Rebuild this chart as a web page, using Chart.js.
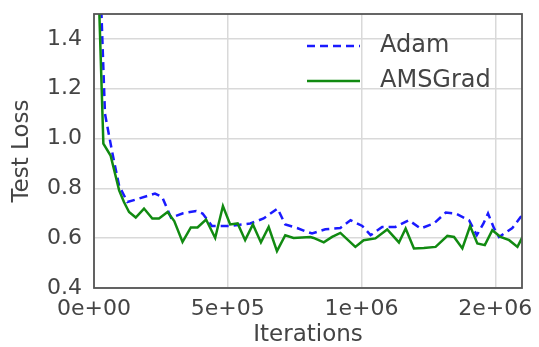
<!DOCTYPE html>
<html>
<head>
<meta charset="utf-8">
<script src="https://cdn.jsdelivr.net/npm/chart.js@4/dist/chart.umd.min.js"></script>
<style>
  html, body { margin: 0; padding: 0; background: #fff; }
  #wrap { width: 539px; height: 347px; position: relative; }
</style>
</head>
<body>
<div id="wrap"><canvas id="lossChart"></canvas></div>
<script>
// values
const seriesNames = ["Adam", "AMSGrad"];

const adamIters = [0, 41000, 54000, 70000, 94000, 125000, 228000, 255000, 288000, 333000,
  382000, 406000, 441000, 509000, 584000, 634000, 686000, 715000, 759000, 797000,
  815000, 865000, 921000, 959000, 1003000, 1034000, 1077000, 1127000, 1177000, 1221000,
  1271000, 1315000, 1352000, 1402000, 1431000, 1456000, 1473000, 1495000, 1514000, 1564000,
  1595000, 1620000];
const adamLoss = [2.35, 1.10, 1.025, 0.935, 0.81, 0.745, 0.779, 0.765, 0.682, 0.700,
  0.709, 0.699, 0.649, 0.649, 0.659, 0.679, 0.719, 0.655, 0.641, 0.625,
  0.619, 0.636, 0.641, 0.672, 0.649, 0.612, 0.645, 0.645, 0.672, 0.639,
  0.659, 0.703, 0.699, 0.672, 0.612, 0.659, 0.699, 0.641, 0.605, 0.641,
  0.685, 0.70];

const amsIters = [0, 35000, 62000, 94000, 112000, 131000, 156000, 187000, 218000, 243000,
  275000, 300000, 331000, 362000, 387000, 419000, 453000, 482000, 509000, 537000,
  565000, 594000, 624000, 653000, 684000, 715000, 746000, 809000, 821000, 859000,
  890000, 921000, 977000, 1008000, 1052000, 1096000, 1140000, 1165000, 1196000, 1233000,
  1277000, 1321000, 1346000, 1377000, 1406000, 1433000, 1461000, 1489000, 1520000, 1552000,
  1583000, 1602000];
const amsLoss = [2.2, 0.98, 0.932, 0.792, 0.745, 0.705, 0.683, 0.719, 0.679, 0.679,
  0.705, 0.669, 0.585, 0.643, 0.643, 0.675, 0.601, 0.729, 0.655, 0.659,
  0.592, 0.655, 0.583, 0.645, 0.548, 0.612, 0.601, 0.605, 0.601, 0.583,
  0.605, 0.621, 0.565, 0.592, 0.599, 0.635, 0.583, 0.639, 0.559, 0.561,
  0.565, 0.609, 0.605, 0.559, 0.649, 0.579, 0.572, 0.632, 0.605, 0.592,
  0.565, 0.605];

const xTickValues = [0, 500000, 1000000, 1500000];
const yTickValues = [0.4, 0.6, 0.8, 1.0, 1.2, 1.4];

const FONT = "'DejaVu Sans', sans-serif";
const TEXT = "#444";

function sciLabel(v) {
  const parts = Number(v).toExponential(0).split("e");
  const ex = parseInt(parts[1], 10);
  return parts[0] + "e" + (ex < 0 ? "-" : "+") + String(Math.abs(ex)).padStart(2, "0");
}

function toPoints(xs, ys) {
  return xs.map((x, i) => ({ x: x, y: ys[i] }));
}

// dark frame round the plot area
const plotFrame = {
  id: "plotFrame",
  afterDatasetsDraw(chart) {
    const a = chart.chartArea;
    const ctx = chart.ctx;
    ctx.save();
    ctx.strokeStyle = "#555";
    ctx.lineWidth = 1.8;
    ctx.strokeRect(a.left, a.top, a.right - a.left, a.bottom - a.top);
    ctx.restore();
  }
};

// legend sits inside the plot, upper right
const insideLegend = {
  id: "insideLegend",
  afterDraw(chart) {
    const a = chart.chartArea;
    const ctx = chart.ctx;
    const sets = chart.data.datasets;
    ctx.save();
    sets.forEach((ds, i) => {
      const y = a.top + 32 + i * 35;
      ctx.beginPath();
      ctx.setLineDash(ds.borderDash || []);
      ctx.strokeStyle = ds.borderColor;
      ctx.lineWidth = ds.borderWidth;
      ctx.moveTo(a.right - 215, y);
      ctx.lineTo(a.right - 162, y);
      ctx.stroke();
      ctx.setLineDash([]);
      ctx.fillStyle = TEXT;
      ctx.font = "24px " + FONT;
      ctx.textBaseline = "middle";
      ctx.fillText(ds.label, a.right - 142, y);
    });
    ctx.restore();
  }
};

// fixed plot box: 94..522 across, 14..288 down
function fixX(s) {
  s.height = 59;
  s.paddingLeft = 0;
  s.paddingRight = 0;
}
function fixY(s) {
  s.width = 94;
  s.paddingTop = 0;
  s.paddingBottom = 0;
}

new Chart("lossChart", {
  type: "line",
  data: {
    datasets: [
      {
        label: seriesNames[0],
        data: toPoints(adamIters, adamLoss),
        borderColor: "#1a1aff",
        borderWidth: 2.5,
        borderDash: [8, 5],
        pointRadius: 0,
        tension: 0,
        order: 1
      },
      {
        label: seriesNames[1],
        data: toPoints(amsIters, amsLoss),
        borderColor: "#118a11",
        borderWidth: 2.5,
        pointRadius: 0,
        tension: 0,
        order: 0
      }
    ]
  },
  options: {
    responsive: true,
    maintainAspectRatio: false,
    animation: false,
    layout: { padding: { top: 14, right: 17, left: 0, bottom: 0 } },
    plugins: {
      legend: { display: false },
      tooltip: { enabled: false }
    },
    scales: {
      x: {
        type: "linear",
        min: 0,
        max: 1600000,
        afterBuildTicks: (s) => { s.ticks = xTickValues.map(v => ({ value: v })); },
        afterFit: fixX,
        grid: { color: "#d9d9d9", lineWidth: 1.5, drawTicks: false },
        border: { display: false },
        ticks: {
          padding: 8,
          color: TEXT,
          font: { family: FONT, size: 22 },
          maxRotation: 0,
          callback: (v) => sciLabel(v)
        },
        title: {
          display: true,
          text: "Iterations",
          color: TEXT,
          font: { family: FONT, size: 23, lineHeight: 1 },
          padding: { top: 0, bottom: 0 }
        }
      },
      y: {
        type: "linear",
        min: 0.4,
        max: 1.5,
        afterBuildTicks: (s) => { s.ticks = yTickValues.map(v => ({ value: v })); },
        afterFit: fixY,
        grid: { color: "#d9d9d9", lineWidth: 1.5, drawTicks: false },
        border: { display: false },
        ticks: {
          padding: 12,
          color: TEXT,
          font: { family: FONT, size: 22 },
          callback: (v) => Number(v).toFixed(1)
        },
        title: {
          display: true,
          text: "Test Loss",
          color: TEXT,
          font: { family: FONT, size: 23, lineHeight: 1 },
          padding: { top: 11, bottom: 0 }
        }
      }
    }
  },
  plugins: [plotFrame, insideLegend]
});
</script>
</body>
</html>
